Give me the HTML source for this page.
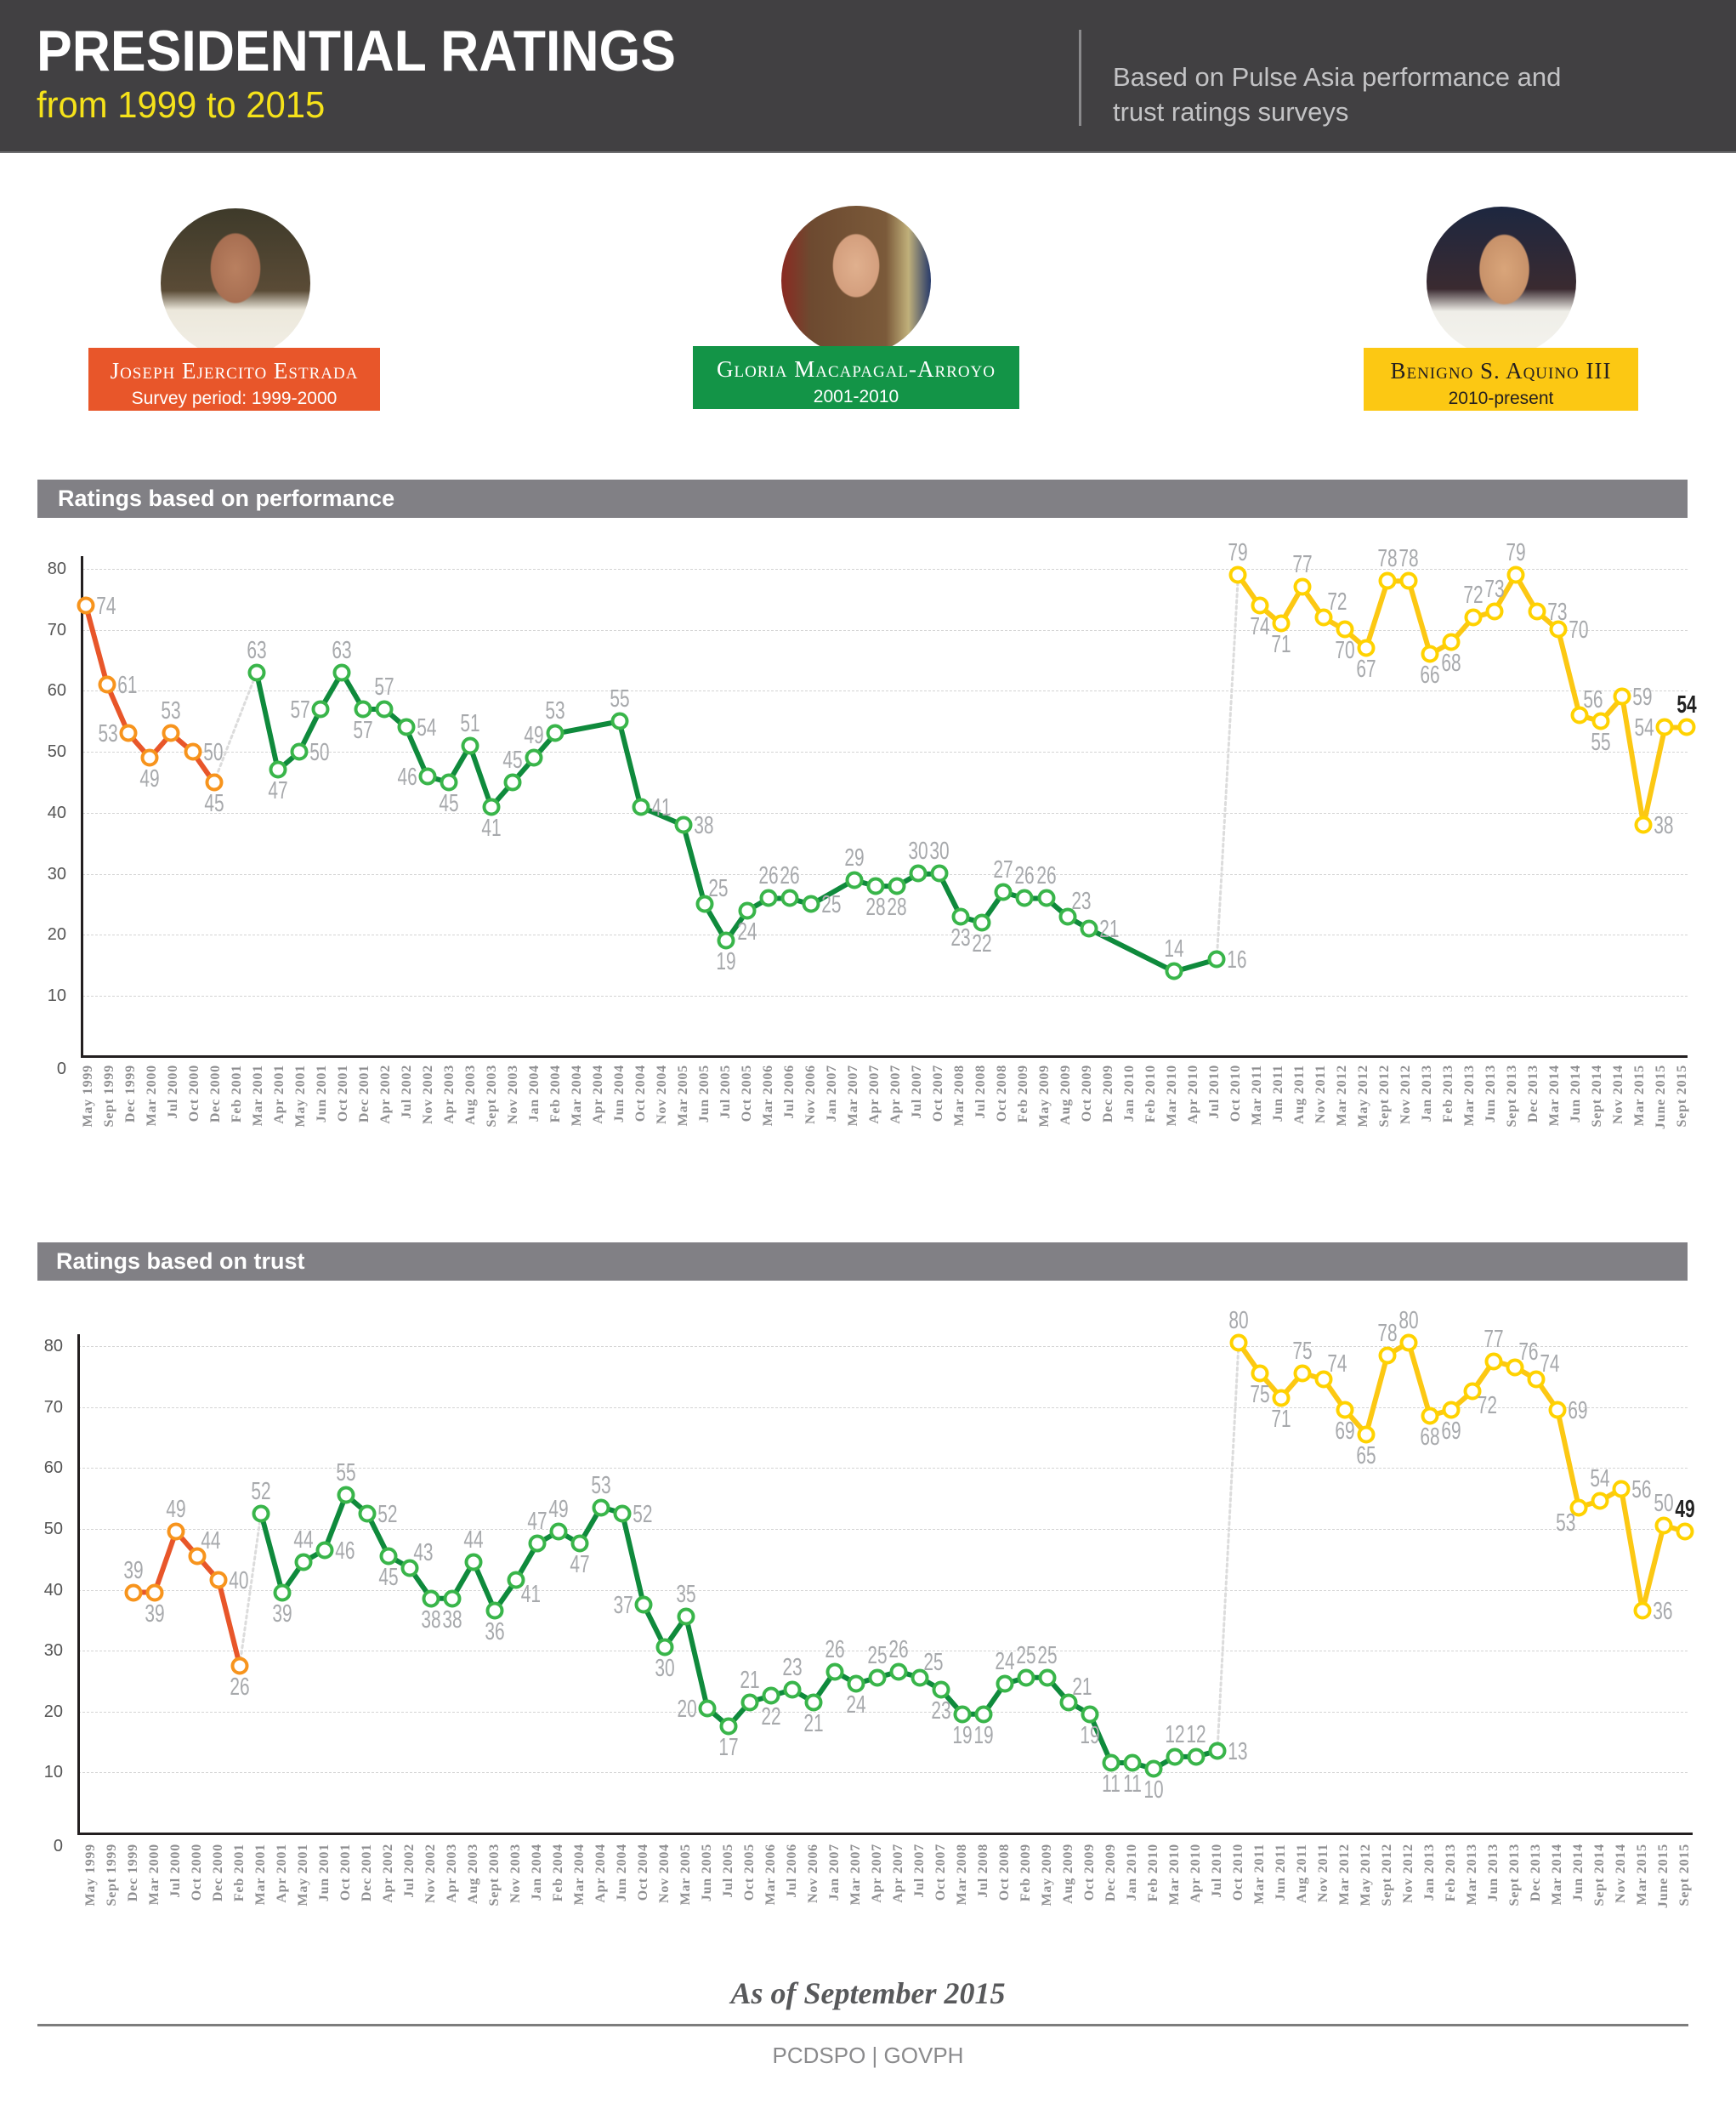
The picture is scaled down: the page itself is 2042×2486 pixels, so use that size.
<!DOCTYPE html>
<html><head><meta charset="utf-8"><style>
*{margin:0;padding:0;box-sizing:content-box}
body{width:2042px;height:2486px;position:relative;background:#fff;overflow:hidden;font-family:"Liberation Sans",sans-serif}
.abs{position:absolute}
#hdr{left:0;top:0;width:2042px;height:178px;background:#414042;border-bottom:2px solid #6d6d6f}
.g{position:absolute;border-top:1.5px dashed #d4d4d4;height:0}
.yt{position:absolute;width:40px;text-align:right;font-size:20px;color:#555;line-height:1;transform:translateY(-50%)}
.bar{position:absolute;left:44px;width:1941px;height:45px;background:#818085;color:#fff;font-weight:bold;font-size:27px;line-height:45px}
.m,.t{position:absolute;left:calc(var(--x0) + var(--i)*var(--dx));top:calc(var(--y0) - var(--v)*var(--dy))}
.m{width:13px;height:13px;border:4px solid;border-radius:50%;background:#fff;transform:translate(-50%,-50%)}
.o{border-color:#f7941d}.gr{border-color:#39b54a}.y{border-color:#ffd200}
.t{font-family:"Liberation Sans",sans-serif;font-weight:normal;font-size:29px;color:#a7a9ac;line-height:1;white-space:nowrap;transform-origin:0 0}
.a{transform:scaleX(.72) translate(-50%,calc(-100% - 11px))}
.b{transform:scaleX(.72) translate(-50%,11px)}
.r{transform:scaleX(.72) translate(17px,-45%)}
.l{transform:scaleX(.72) translate(calc(-100% - 17px),-45%)}
.ar{transform:scaleX(.72) translate(6px,calc(-100% - 3px))}
.br{transform:scaleX(.72) translate(8px,3px)}
.bl{transform:scaleX(.72) translate(calc(-100% - 5px),4px)}
.k{color:#222;font-weight:bold}
.P{--x0:101px;--dx:25.1px;--y0:1242.7px;--dy:7.175px}
.T{--x0:107px;--dx:25px;--y0:2152px;--dy:7.16px}
svg.ln{position:absolute;overflow:visible}
svg.ln polyline{fill:none;stroke-width:6;stroke-linejoin:round;stroke-linecap:round;vector-effect:non-scaling-stroke}
svg.ln polyline.d{stroke:#dcdcdc;stroke-width:3;stroke-dasharray:3 4}
.xl{position:absolute;display:flex}
.xl>div{width:25px;height:1px;position:relative}
.xl span{position:absolute;left:12.5px;top:0;transform-origin:0 0;transform:rotate(-90deg) translate(-100%,-50%);white-space:nowrap;font-family:"Liberation Serif",serif;font-weight:bold;font-size:16px;letter-spacing:0.8px;color:#8e8e90;line-height:1}
.ph{position:absolute;width:176px;height:176px;border-radius:50%;overflow:hidden}
.nb{position:absolute;text-align:center;color:#fff}
.nb .n{font-family:"Liberation Serif",serif;font-variant:small-caps;font-size:27px;letter-spacing:1px;line-height:1;margin-top:14px}
.nb .s{font-family:"Liberation Sans",sans-serif;font-size:21px;margin-top:8px;line-height:1}
</style></head><body>

<div id="hdr" class="abs"></div>
<div class="abs" style="left:43px;top:26px;font-size:68px;font-weight:bold;color:#fff;line-height:1;transform:scaleX(0.92);transform-origin:0 0;white-space:nowrap">PRESIDENTIAL RATINGS</div>
<div class="abs" style="left:43px;top:102px;font-size:44px;color:#f5e21a;line-height:1;transform:scaleX(0.95);transform-origin:0 0;white-space:nowrap">from 1999 to 2015</div>
<div class="abs" style="left:1269px;top:35px;width:3px;height:113px;background:#8a8a8c"></div>
<div class="abs" style="left:1309px;top:70px;font-size:31px;color:#c3c3c5;line-height:41px;white-space:nowrap">Based on Pulse Asia performance and<br>trust ratings surveys</div>

<div class="ph" style="left:189px;top:245px;background:radial-gradient(ellipse 30px 42px at 50% 40%,#b98060 0,#a86f52 95%,transparent 100%),linear-gradient(#3e3a2a 0%,#5a4b36 55%,#ece8dc 68%,#f2efe6 100%)"></div>
<div class="ph" style="left:919px;top:242px;background:radial-gradient(ellipse 28px 38px at 50% 40%,#e0b08e 0,#d49f7e 95%,transparent 100%),linear-gradient(90deg,#8a2a22 0%,#6d4a30 20%,#7b5a3a 70%,#c0b07a 85%,#273a6a 100%)"></div>
<div class="ph" style="left:1678px;top:243px;background:radial-gradient(ellipse 30px 42px at 52% 42%,#d9a57a 0,#c8926a 95%,transparent 100%),linear-gradient(#1d2740 0%,#3a2a30 55%,#efeee8 70%,#f4f3ee 100%)"></div>

<div class="nb" style="left:104px;top:409px;width:343px;height:74px;background:#e8562a"><div class="n">Joseph Ejercito Estrada</div><div class="s">Survey period: 1999-2000</div></div>
<div class="nb" style="left:815px;top:407px;width:384px;height:74px;background:#139447"><div class="n">Gloria Macapagal-Arroyo</div><div class="s">2001-2010</div></div>
<div class="nb" style="left:1604px;top:409px;width:323px;height:74px;background:#fcc813;color:#231f20"><div class="n">Benigno S. Aquino III</div><div class="s">2010-present</div></div>

<!-- PERFORMANCE -->
<div class="bar" style="top:564px"><span style="margin-left:24px">Ratings based on performance</span></div>
<div class="g" style="left:97px;width:1888px;top:668.7px"></div>
<div class="g" style="left:97px;width:1888px;top:740.5px"></div>
<div class="g" style="left:97px;width:1888px;top:812.2px"></div>
<div class="g" style="left:97px;width:1888px;top:884px"></div>
<div class="g" style="left:97px;width:1888px;top:955.7px"></div>
<div class="g" style="left:97px;width:1888px;top:1027.5px"></div>
<div class="g" style="left:97px;width:1888px;top:1099.2px"></div>
<div class="g" style="left:97px;width:1888px;top:1171px"></div>
<div class="yt" style="left:38px;top:668.7px">80</div>
<div class="yt" style="left:38px;top:740.5px">70</div>
<div class="yt" style="left:38px;top:812.2px">60</div>
<div class="yt" style="left:38px;top:884px">50</div>
<div class="yt" style="left:38px;top:955.7px">40</div>
<div class="yt" style="left:38px;top:1027.5px">30</div>
<div class="yt" style="left:38px;top:1099.2px">20</div>
<div class="yt" style="left:38px;top:1171px">10</div>
<div class="yt" style="left:38px;top:1257px">0</div>
<div class="abs" style="left:95px;top:654px;width:3px;height:590px;background:#231f20"></div>
<div class="abs" style="left:95px;top:1241px;width:1890px;height:3px;background:#231f20"></div>

<svg class="ln" style="left:101px;top:668.7px;width:1882.5px;height:574px" viewBox="0 -80 75 80" preserveAspectRatio="none">
<polyline class="d" points="6,-45 8,-63"/>
<polyline class="d" points="53,-16 54,-79"/>
<polyline stroke="#e8562a" points="0,-74 1,-61 2,-53 3,-49 4,-53 5,-50 6,-45"/>
<polyline stroke="#0f8a3c" points="8,-63 9,-47 10,-50 11,-57 12,-63 13,-57 14,-57 15,-54 16,-46 17,-45 18,-51 19,-41 20,-45 21,-49 22,-53 25,-55 26,-41 28,-38 29,-25 30,-19 31,-24 32,-26 33,-26 34,-25 36,-29 37,-28 38,-28 39,-30 40,-30 41,-23 42,-22 43,-27 44,-26 45,-26 46,-23 47,-21 51,-14 53,-16"/>
<polyline stroke="#fcc813" points="54,-79 55,-74 56,-71 57,-77 58,-72 59,-70 60,-67 61,-78 62,-78 63,-66 64,-68 65,-72 66,-73 67,-79 68,-73 69,-70 70,-56 71,-55 72,-59 73,-38 74,-54 75,-54"/>
</svg>

<div class="P">
<i class="m o" style="--i:0;--v:74"></i><b class="t r" style="--i:0;--v:74">74</b>
<i class="m o" style="--i:1;--v:61"></i><b class="t r" style="--i:1;--v:61">61</b>
<i class="m o" style="--i:2;--v:53"></i><b class="t l" style="--i:2;--v:53">53</b>
<i class="m o" style="--i:3;--v:49"></i><b class="t b" style="--i:3;--v:49">49</b>
<i class="m o" style="--i:4;--v:53"></i><b class="t a" style="--i:4;--v:53">53</b>
<i class="m o" style="--i:5;--v:50"></i><b class="t r" style="--i:5;--v:50">50</b>
<i class="m o" style="--i:6;--v:45"></i><b class="t b" style="--i:6;--v:45">45</b>
<i class="m gr" style="--i:8;--v:63"></i><b class="t a" style="--i:8;--v:63">63</b>
<i class="m gr" style="--i:9;--v:47"></i><b class="t b" style="--i:9;--v:47">47</b>
<i class="m gr" style="--i:10;--v:50"></i><b class="t r" style="--i:10;--v:50">50</b>
<i class="m gr" style="--i:11;--v:57"></i><b class="t l" style="--i:11;--v:57">57</b>
<i class="m gr" style="--i:12;--v:63"></i><b class="t a" style="--i:12;--v:63">63</b>
<i class="m gr" style="--i:13;--v:57"></i><b class="t b" style="--i:13;--v:57">57</b>
<i class="m gr" style="--i:14;--v:57"></i><b class="t a" style="--i:14;--v:57">57</b>
<i class="m gr" style="--i:15;--v:54"></i><b class="t r" style="--i:15;--v:54">54</b>
<i class="m gr" style="--i:16;--v:46"></i><b class="t l" style="--i:16;--v:46">46</b>
<i class="m gr" style="--i:17;--v:45"></i><b class="t b" style="--i:17;--v:45">45</b>
<i class="m gr" style="--i:18;--v:51"></i><b class="t a" style="--i:18;--v:51">51</b>
<i class="m gr" style="--i:19;--v:41"></i><b class="t b" style="--i:19;--v:41">41</b>
<i class="m gr" style="--i:20;--v:45"></i><b class="t a" style="--i:20;--v:45">45</b>
<i class="m gr" style="--i:21;--v:49"></i><b class="t a" style="--i:21;--v:49">49</b>
<i class="m gr" style="--i:22;--v:53"></i><b class="t a" style="--i:22;--v:53">53</b>
<i class="m gr" style="--i:25;--v:55"></i><b class="t a" style="--i:25;--v:55">55</b>
<i class="m gr" style="--i:26;--v:41"></i><b class="t r" style="--i:26;--v:41">41</b>
<i class="m gr" style="--i:28;--v:38"></i><b class="t r" style="--i:28;--v:38">38</b>
<i class="m gr" style="--i:29;--v:25"></i><b class="t ar" style="--i:29;--v:25">25</b>
<i class="m gr" style="--i:30;--v:19"></i><b class="t b" style="--i:30;--v:19">19</b>
<i class="m gr" style="--i:31;--v:24"></i><b class="t b" style="--i:31;--v:24">24</b>
<i class="m gr" style="--i:32;--v:26"></i><b class="t a" style="--i:32;--v:26">26</b>
<i class="m gr" style="--i:33;--v:26"></i><b class="t a" style="--i:33;--v:26">26</b>
<i class="m gr" style="--i:34;--v:25"></i><b class="t r" style="--i:34;--v:25">25</b>
<i class="m gr" style="--i:36;--v:29"></i><b class="t a" style="--i:36;--v:29">29</b>
<i class="m gr" style="--i:37;--v:28"></i><b class="t b" style="--i:37;--v:28">28</b>
<i class="m gr" style="--i:38;--v:28"></i><b class="t b" style="--i:38;--v:28">28</b>
<i class="m gr" style="--i:39;--v:30"></i><b class="t a" style="--i:39;--v:30">30</b>
<i class="m gr" style="--i:40;--v:30"></i><b class="t a" style="--i:40;--v:30">30</b>
<i class="m gr" style="--i:41;--v:23"></i><b class="t b" style="--i:41;--v:23">23</b>
<i class="m gr" style="--i:42;--v:22"></i><b class="t b" style="--i:42;--v:22">22</b>
<i class="m gr" style="--i:43;--v:27"></i><b class="t a" style="--i:43;--v:27">27</b>
<i class="m gr" style="--i:44;--v:26"></i><b class="t a" style="--i:44;--v:26">26</b>
<i class="m gr" style="--i:45;--v:26"></i><b class="t a" style="--i:45;--v:26">26</b>
<i class="m gr" style="--i:46;--v:23"></i><b class="t ar" style="--i:46;--v:23">23</b>
<i class="m gr" style="--i:47;--v:21"></i><b class="t r" style="--i:47;--v:21">21</b>
<i class="m gr" style="--i:51;--v:14"></i><b class="t a" style="--i:51;--v:14">14</b>
<i class="m gr" style="--i:53;--v:16"></i><b class="t r" style="--i:53;--v:16">16</b>
<i class="m y" style="--i:54;--v:79"></i><b class="t a" style="--i:54;--v:79">79</b>
<i class="m y" style="--i:55;--v:74"></i><b class="t b" style="--i:55;--v:74">74</b>
<i class="m y" style="--i:56;--v:71"></i><b class="t b" style="--i:56;--v:71">71</b>
<i class="m y" style="--i:57;--v:77"></i><b class="t a" style="--i:57;--v:77">77</b>
<i class="m y" style="--i:58;--v:72"></i><b class="t ar" style="--i:58;--v:72">72</b>
<i class="m y" style="--i:59;--v:70"></i><b class="t b" style="--i:59;--v:70">70</b>
<i class="m y" style="--i:60;--v:67"></i><b class="t b" style="--i:60;--v:67">67</b>
<i class="m y" style="--i:61;--v:78"></i><b class="t a" style="--i:61;--v:78">78</b>
<i class="m y" style="--i:62;--v:78"></i><b class="t a" style="--i:62;--v:78">78</b>
<i class="m y" style="--i:63;--v:66"></i><b class="t b" style="--i:63;--v:66">66</b>
<i class="m y" style="--i:64;--v:68"></i><b class="t b" style="--i:64;--v:68">68</b>
<i class="m y" style="--i:65;--v:72"></i><b class="t a" style="--i:65;--v:72">72</b>
<i class="m y" style="--i:66;--v:73"></i><b class="t a" style="--i:66;--v:73">73</b>
<i class="m y" style="--i:67;--v:79"></i><b class="t a" style="--i:67;--v:79">79</b>
<i class="m y" style="--i:68;--v:73"></i><b class="t r" style="--i:68;--v:73">73</b>
<i class="m y" style="--i:69;--v:70"></i><b class="t r" style="--i:69;--v:70">70</b>
<i class="m y" style="--i:70;--v:56"></i><b class="t ar" style="--i:70;--v:56">56</b>
<i class="m y" style="--i:71;--v:55"></i><b class="t b" style="--i:71;--v:55">55</b>
<i class="m y" style="--i:72;--v:59"></i><b class="t r" style="--i:72;--v:59">59</b>
<i class="m y" style="--i:73;--v:38"></i><b class="t r" style="--i:73;--v:38">38</b>
<i class="m y" style="--i:74;--v:54"></i><b class="t l" style="--i:74;--v:54">54</b>
<i class="m y" style="--i:75;--v:54"></i><b class="t a k" style="--i:75;--v:54">54</b>
</div>

<div class="xl" style="left:91.5px;top:1252px">
<div><span>May 1999</span></div><div><span>Sept 1999</span></div><div><span>Dec 1999</span></div><div><span>Mar 2000</span></div><div><span>Jul 2000</span></div><div><span>Oct 2000</span></div><div><span>Dec 2000</span></div><div><span>Feb 2001</span></div><div><span>Mar 2001</span></div><div><span>Apr 2001</span></div><div><span>May 2001</span></div><div><span>Jun 2001</span></div><div><span>Oct 2001</span></div><div><span>Dec 2001</span></div><div><span>Apr 2002</span></div><div><span>Jul 2002</span></div><div><span>Nov 2002</span></div><div><span>Apr 2003</span></div><div><span>Aug 2003</span></div><div><span>Sept 2003</span></div><div><span>Nov 2003</span></div><div><span>Jan 2004</span></div><div><span>Feb 2004</span></div><div><span>Mar 2004</span></div><div><span>Apr 2004</span></div><div><span>Jun 2004</span></div><div><span>Oct 2004</span></div><div><span>Nov 2004</span></div><div><span>Mar 2005</span></div><div><span>Jun 2005</span></div><div><span>Jul 2005</span></div><div><span>Oct 2005</span></div><div><span>Mar 2006</span></div><div><span>Jul 2006</span></div><div><span>Nov 2006</span></div><div><span>Jan 2007</span></div><div><span>Mar 2007</span></div><div><span>Apr 2007</span></div><div><span>Apr 2007</span></div><div><span>Jul 2007</span></div><div><span>Oct 2007</span></div><div><span>Mar 2008</span></div><div><span>Jul 2008</span></div><div><span>Oct 2008</span></div><div><span>Feb 2009</span></div><div><span>May 2009</span></div><div><span>Aug 2009</span></div><div><span>Oct 2009</span></div><div><span>Dec 2009</span></div><div><span>Jan 2010</span></div><div><span>Feb 2010</span></div><div><span>Mar 2010</span></div><div><span>Apr 2010</span></div><div><span>Jul 2010</span></div><div><span>Oct 2010</span></div><div><span>Mar 2011</span></div><div><span>Jun 2011</span></div><div><span>Aug 2011</span></div><div><span>Nov 2011</span></div><div><span>Mar 2012</span></div><div><span>May 2012</span></div><div><span>Sept 2012</span></div><div><span>Nov 2012</span></div><div><span>Jan 2013</span></div><div><span>Feb 2013</span></div><div><span>Mar 2013</span></div><div><span>Jun 2013</span></div><div><span>Sept 2013</span></div><div><span>Dec 2013</span></div><div><span>Mar 2014</span></div><div><span>Jun 2014</span></div><div><span>Sept 2014</span></div><div><span>Nov 2014</span></div><div><span>Mar 2015</span></div><div><span>June 2015</span></div><div><span>Sept 2015</span></div>
</div>

<!-- TRUST -->
<div class="bar" style="top:1461px"><span style="margin-left:22px">Ratings based on trust</span></div>
<div class="g" style="left:92px;width:1893px;top:1583.2px"></div>
<div class="g" style="left:92px;width:1893px;top:1654.8px"></div>
<div class="g" style="left:92px;width:1893px;top:1726.4px"></div>
<div class="g" style="left:92px;width:1893px;top:1798px"></div>
<div class="g" style="left:92px;width:1893px;top:1869.6px"></div>
<div class="g" style="left:92px;width:1893px;top:1941.2px"></div>
<div class="g" style="left:92px;width:1893px;top:2012.8px"></div>
<div class="g" style="left:92px;width:1893px;top:2084.4px"></div>
<div class="yt" style="left:34px;top:1583.2px">80</div>
<div class="yt" style="left:34px;top:1654.8px">70</div>
<div class="yt" style="left:34px;top:1726.4px">60</div>
<div class="yt" style="left:34px;top:1798px">50</div>
<div class="yt" style="left:34px;top:1869.6px">40</div>
<div class="yt" style="left:34px;top:1941.2px">30</div>
<div class="yt" style="left:34px;top:2012.8px">20</div>
<div class="yt" style="left:34px;top:2084.4px">10</div>
<div class="yt" style="left:34px;top:2171px">0</div>
<div class="abs" style="left:91px;top:1569px;width:3px;height:589px;background:#231f20"></div>
<div class="abs" style="left:91px;top:2155px;width:1900px;height:3px;background:#231f20"></div>

<svg class="ln" style="left:107px;top:1579.2px;width:1875px;height:572.8px" viewBox="0 -80 75 80" preserveAspectRatio="none">
<polyline class="d" points="7,-27 8,-52"/>
<polyline class="d" points="53,-13 54,-80"/>
<polyline stroke="#e8562a" points="2,-39 3,-39 4,-49 5,-45 6,-41 7,-27"/>
<polyline stroke="#0f8a3c" points="8,-52 9,-39 10,-44 11,-46 12,-55 13,-52 14,-45 15,-43 16,-38 17,-38 18,-44 19,-36 20,-41 21,-47 22,-49 23,-47 24,-53 25,-52 26,-37 27,-30 28,-35 29,-20 30,-17 31,-21 32,-22 33,-23 34,-21 35,-26 36,-24 37,-25 38,-26 39,-25 40,-23 41,-19 42,-19 43,-24 44,-25 45,-25 46,-21 47,-19 48,-11 49,-11 50,-10 51,-12 52,-12 53,-13"/>
<polyline stroke="#fcc813" points="54,-80 55,-75 56,-71 57,-75 58,-74 59,-69 60,-65 61,-78 62,-80 63,-68 64,-69 65,-72 66,-77 67,-76 68,-74 69,-69 70,-53 71,-54 72,-56 73,-36 74,-50 75,-49"/>
</svg>

<div class="T">
<i class="m o" style="--i:2;--v:39"></i><b class="t a" style="--i:2;--v:39">39</b>
<i class="m o" style="--i:3;--v:39"></i><b class="t b" style="--i:3;--v:39">39</b>
<i class="m o" style="--i:4;--v:49"></i><b class="t a" style="--i:4;--v:49">49</b>
<i class="m o" style="--i:5;--v:45"></i><b class="t ar" style="--i:5;--v:45">44</b>
<i class="m o" style="--i:6;--v:41"></i><b class="t r" style="--i:6;--v:41">40</b>
<i class="m o" style="--i:7;--v:27"></i><b class="t b" style="--i:7;--v:27">26</b>
<i class="m gr" style="--i:8;--v:52"></i><b class="t a" style="--i:8;--v:52">52</b>
<i class="m gr" style="--i:9;--v:39"></i><b class="t b" style="--i:9;--v:39">39</b>
<i class="m gr" style="--i:10;--v:44"></i><b class="t a" style="--i:10;--v:44">44</b>
<i class="m gr" style="--i:11;--v:46"></i><b class="t r" style="--i:11;--v:46">46</b>
<i class="m gr" style="--i:12;--v:55"></i><b class="t a" style="--i:12;--v:55">55</b>
<i class="m gr" style="--i:13;--v:52"></i><b class="t r" style="--i:13;--v:52">52</b>
<i class="m gr" style="--i:14;--v:45"></i><b class="t b" style="--i:14;--v:45">45</b>
<i class="m gr" style="--i:15;--v:43"></i><b class="t ar" style="--i:15;--v:43">43</b>
<i class="m gr" style="--i:16;--v:38"></i><b class="t b" style="--i:16;--v:38">38</b>
<i class="m gr" style="--i:17;--v:38"></i><b class="t b" style="--i:17;--v:38">38</b>
<i class="m gr" style="--i:18;--v:44"></i><b class="t a" style="--i:18;--v:44">44</b>
<i class="m gr" style="--i:19;--v:36"></i><b class="t b" style="--i:19;--v:36">36</b>
<i class="m gr" style="--i:20;--v:41"></i><b class="t br" style="--i:20;--v:41">41</b>
<i class="m gr" style="--i:21;--v:47"></i><b class="t a" style="--i:21;--v:47">47</b>
<i class="m gr" style="--i:22;--v:49"></i><b class="t a" style="--i:22;--v:49">49</b>
<i class="m gr" style="--i:23;--v:47"></i><b class="t b" style="--i:23;--v:47">47</b>
<i class="m gr" style="--i:24;--v:53"></i><b class="t a" style="--i:24;--v:53">53</b>
<i class="m gr" style="--i:25;--v:52"></i><b class="t r" style="--i:25;--v:52">52</b>
<i class="m gr" style="--i:26;--v:37"></i><b class="t l" style="--i:26;--v:37">37</b>
<i class="m gr" style="--i:27;--v:30"></i><b class="t b" style="--i:27;--v:30">30</b>
<i class="m gr" style="--i:28;--v:35"></i><b class="t a" style="--i:28;--v:35">35</b>
<i class="m gr" style="--i:29;--v:20"></i><b class="t l" style="--i:29;--v:20">20</b>
<i class="m gr" style="--i:30;--v:17"></i><b class="t b" style="--i:30;--v:17">17</b>
<i class="m gr" style="--i:31;--v:21"></i><b class="t a" style="--i:31;--v:21">21</b>
<i class="m gr" style="--i:32;--v:22"></i><b class="t b" style="--i:32;--v:22">22</b>
<i class="m gr" style="--i:33;--v:23"></i><b class="t a" style="--i:33;--v:23">23</b>
<i class="m gr" style="--i:34;--v:21"></i><b class="t b" style="--i:34;--v:21">21</b>
<i class="m gr" style="--i:35;--v:26"></i><b class="t a" style="--i:35;--v:26">26</b>
<i class="m gr" style="--i:36;--v:24"></i><b class="t b" style="--i:36;--v:24">24</b>
<i class="m gr" style="--i:37;--v:25"></i><b class="t a" style="--i:37;--v:25">25</b>
<i class="m gr" style="--i:38;--v:26"></i><b class="t a" style="--i:38;--v:26">26</b>
<i class="m gr" style="--i:39;--v:25"></i><b class="t ar" style="--i:39;--v:25">25</b>
<i class="m gr" style="--i:40;--v:23"></i><b class="t b" style="--i:40;--v:23">23</b>
<i class="m gr" style="--i:41;--v:19"></i><b class="t b" style="--i:41;--v:19">19</b>
<i class="m gr" style="--i:42;--v:19"></i><b class="t b" style="--i:42;--v:19">19</b>
<i class="m gr" style="--i:43;--v:24"></i><b class="t a" style="--i:43;--v:24">24</b>
<i class="m gr" style="--i:44;--v:25"></i><b class="t a" style="--i:44;--v:25">25</b>
<i class="m gr" style="--i:45;--v:25"></i><b class="t a" style="--i:45;--v:25">25</b>
<i class="m gr" style="--i:46;--v:21"></i><b class="t ar" style="--i:46;--v:21">21</b>
<i class="m gr" style="--i:47;--v:19"></i><b class="t b" style="--i:47;--v:19">19</b>
<i class="m gr" style="--i:48;--v:11"></i><b class="t b" style="--i:48;--v:11">11</b>
<i class="m gr" style="--i:49;--v:11"></i><b class="t b" style="--i:49;--v:11">11</b>
<i class="m gr" style="--i:50;--v:10"></i><b class="t b" style="--i:50;--v:10">10</b>
<i class="m gr" style="--i:51;--v:12"></i><b class="t a" style="--i:51;--v:12">12</b>
<i class="m gr" style="--i:52;--v:12"></i><b class="t a" style="--i:52;--v:12">12</b>
<i class="m gr" style="--i:53;--v:13"></i><b class="t r" style="--i:53;--v:13">13</b>
<i class="m y" style="--i:54;--v:80"></i><b class="t a" style="--i:54;--v:80">80</b>
<i class="m y" style="--i:55;--v:75"></i><b class="t b" style="--i:55;--v:75">75</b>
<i class="m y" style="--i:56;--v:71"></i><b class="t b" style="--i:56;--v:71">71</b>
<i class="m y" style="--i:57;--v:75"></i><b class="t a" style="--i:57;--v:75">75</b>
<i class="m y" style="--i:58;--v:74"></i><b class="t ar" style="--i:58;--v:74">74</b>
<i class="m y" style="--i:59;--v:69"></i><b class="t b" style="--i:59;--v:69">69</b>
<i class="m y" style="--i:60;--v:65"></i><b class="t b" style="--i:60;--v:65">65</b>
<i class="m y" style="--i:61;--v:78"></i><b class="t a" style="--i:61;--v:78">78</b>
<i class="m y" style="--i:62;--v:80"></i><b class="t a" style="--i:62;--v:80">80</b>
<i class="m y" style="--i:63;--v:68"></i><b class="t b" style="--i:63;--v:68">68</b>
<i class="m y" style="--i:64;--v:69"></i><b class="t b" style="--i:64;--v:69">69</b>
<i class="m y" style="--i:65;--v:72"></i><b class="t br" style="--i:65;--v:72">72</b>
<i class="m y" style="--i:66;--v:77"></i><b class="t a" style="--i:66;--v:77">77</b>
<i class="m y" style="--i:67;--v:76"></i><b class="t ar" style="--i:67;--v:76">76</b>
<i class="m y" style="--i:68;--v:74"></i><b class="t ar" style="--i:68;--v:74">74</b>
<i class="m y" style="--i:69;--v:69"></i><b class="t r" style="--i:69;--v:69">69</b>
<i class="m y" style="--i:70;--v:53"></i><b class="t bl" style="--i:70;--v:53">53</b>
<i class="m y" style="--i:71;--v:54"></i><b class="t a" style="--i:71;--v:54">54</b>
<i class="m y" style="--i:72;--v:56"></i><b class="t r" style="--i:72;--v:56">56</b>
<i class="m y" style="--i:73;--v:36"></i><b class="t r" style="--i:73;--v:36">36</b>
<i class="m y" style="--i:74;--v:50"></i><b class="t a" style="--i:74;--v:50">50</b>
<i class="m y" style="--i:75;--v:49"></i><b class="t a k" style="--i:75;--v:49">49</b>
</div>

<div class="xl" style="left:94.5px;top:2168px">
<div><span>May 1999</span></div><div><span>Sept 1999</span></div><div><span>Dec 1999</span></div><div><span>Mar 2000</span></div><div><span>Jul 2000</span></div><div><span>Oct 2000</span></div><div><span>Dec 2000</span></div><div><span>Feb 2001</span></div><div><span>Mar 2001</span></div><div><span>Apr 2001</span></div><div><span>May 2001</span></div><div><span>Jun 2001</span></div><div><span>Oct 2001</span></div><div><span>Dec 2001</span></div><div><span>Apr 2002</span></div><div><span>Jul 2002</span></div><div><span>Nov 2002</span></div><div><span>Apr 2003</span></div><div><span>Aug 2003</span></div><div><span>Sept 2003</span></div><div><span>Nov 2003</span></div><div><span>Jan 2004</span></div><div><span>Feb 2004</span></div><div><span>Mar 2004</span></div><div><span>Apr 2004</span></div><div><span>Jun 2004</span></div><div><span>Oct 2004</span></div><div><span>Nov 2004</span></div><div><span>Mar 2005</span></div><div><span>Jun 2005</span></div><div><span>Jul 2005</span></div><div><span>Oct 2005</span></div><div><span>Mar 2006</span></div><div><span>Jul 2006</span></div><div><span>Nov 2006</span></div><div><span>Jan 2007</span></div><div><span>Mar 2007</span></div><div><span>Apr 2007</span></div><div><span>Apr 2007</span></div><div><span>Jul 2007</span></div><div><span>Oct 2007</span></div><div><span>Mar 2008</span></div><div><span>Jul 2008</span></div><div><span>Oct 2008</span></div><div><span>Feb 2009</span></div><div><span>May 2009</span></div><div><span>Aug 2009</span></div><div><span>Oct 2009</span></div><div><span>Dec 2009</span></div><div><span>Jan 2010</span></div><div><span>Feb 2010</span></div><div><span>Mar 2010</span></div><div><span>Apr 2010</span></div><div><span>Jul 2010</span></div><div><span>Oct 2010</span></div><div><span>Mar 2011</span></div><div><span>Jun 2011</span></div><div><span>Aug 2011</span></div><div><span>Nov 2011</span></div><div><span>Mar 2012</span></div><div><span>May 2012</span></div><div><span>Sept 2012</span></div><div><span>Nov 2012</span></div><div><span>Jan 2013</span></div><div><span>Feb 2013</span></div><div><span>Mar 2013</span></div><div><span>Jun 2013</span></div><div><span>Sept 2013</span></div><div><span>Dec 2013</span></div><div><span>Mar 2014</span></div><div><span>Jun 2014</span></div><div><span>Sept 2014</span></div><div><span>Nov 2014</span></div><div><span>Mar 2015</span></div><div><span>June 2015</span></div><div><span>Sept 2015</span></div>
</div>

<!-- FOOTER -->
<div class="abs" style="left:0;width:2042px;top:2326px;text-align:center;font-family:'Liberation Serif',serif;font-style:italic;font-weight:bold;font-size:36px;color:#58595b;line-height:1">As of September 2015</div>
<div class="abs" style="left:44px;top:2380px;width:1942px;height:3px;background:#7d7d7d"></div>
<div class="abs" style="left:0;width:2042px;top:2404px;text-align:center;font-size:26px;color:#8a8a8c;line-height:1">PCDSPO | GOVPH</div>

</body></html>
